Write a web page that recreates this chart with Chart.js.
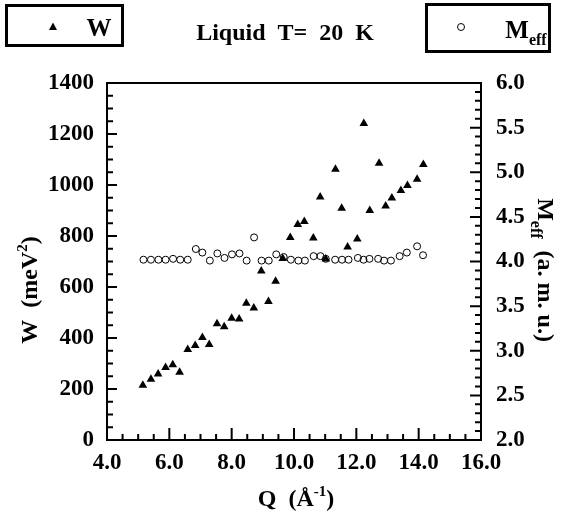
<!DOCTYPE html>
<html>
<head>
<meta charset="utf-8">
<script src="https://cdn.jsdelivr.net/npm/chart.js@4/dist/chart.umd.min.js"></script>
<style>
html,body{margin:0;padding:0;background:#fff;}
#wrap{width:561px;height:514px;position:relative;}
</style>
</head>
<body>
<div id="wrap"><canvas id="c" width="561" height="514"></canvas></div>
<script>
// ---- data ----
const qW = [5.15,5.41,5.64,5.88,6.11,6.33,6.59,6.83,7.06,7.28,7.53,7.76,8.00,8.24,8.47,8.71,8.95,9.18,9.41,9.64,9.88,10.12,10.33,10.62,10.84,11.02,11.33,11.53,11.72,12.03,12.24,12.43,12.73,12.94,13.14,13.43,13.64,13.95,14.15];
const wValues = [215,238,259,284,295,266,355,371,402,375,456,444,477,475,536,518,663,543,623,712,794,845,857,792,953,710,1062,909,757,788,1241,900,1085,918,949,978,998,1023,1080];
const qM = [5.17,5.41,5.65,5.88,6.12,6.35,6.59,6.85,7.06,7.30,7.54,7.77,8.01,8.25,8.48,8.72,8.96,9.19,9.43,9.67,9.90,10.14,10.35,10.63,10.85,11.02,11.32,11.54,11.75,12.05,12.23,12.42,12.70,12.89,13.11,13.39,13.62,13.95,14.14];
const mValues = [4.02,4.02,4.02,4.02,4.03,4.02,4.02,4.14,4.10,4.01,4.09,4.04,4.08,4.09,4.01,4.27,4.01,4.01,4.08,4.05,4.02,4.01,4.01,4.06,4.06,4.03,4.02,4.02,4.02,4.04,4.02,4.03,4.03,4.01,4.01,4.06,4.10,4.17,4.07];
const xTicks = [4,6,8,10,12,14,16];
const wTicks = [0,200,400,600,800,1000,1200,1400];
const mTicks = [2.0,2.5,3.0,3.5,4.0,4.5,5.0,5.5,6.0];
const titleText = "Liquid  T=  20  K";
const seriesNames = ["W", "M"];

const FONT = "'Liberation Serif', 'Times New Roman', serif";

const W_pts = qW.map((q,i)=>({x:q,y:wValues[i]}));
const M_pts = qM.map((q,i)=>({x:q,y:mValues[i]}));

function rich(ctx, parts, cx, cy, rot){
  ctx.save();
  ctx.translate(cx, cy);
  ctx.rotate(rot);
  let total = 0;
  parts.forEach(p=>{ctx.font = "bold "+p.size+"px "+FONT; p.w = ctx.measureText(p.t).width; total += p.w;});
  let x = -total/2;
  ctx.textBaseline = "alphabetic";
  ctx.textAlign = "left";
  ctx.fillStyle = "#000";
  parts.forEach(p=>{ctx.font = "bold "+p.size+"px "+FONT; ctx.fillText(p.t, x, p.dy||0); x += p.w;});
  ctx.restore();
}

const decor = {
  id:'decor',
  afterDatasetsDraw(chart){
    const ctx = chart.ctx;
    const a = chart.chartArea;
    const sx = chart.scales.x, sy = chart.scales.y, sy2 = chart.scales.y2;
    ctx.save();
    ctx.strokeStyle = "#000";
    ctx.lineWidth = 2;
    ctx.strokeRect(a.left, a.top, a.right-a.left, a.bottom-a.top);
    ctx.beginPath();
    for(let i=0;i<=24;i++){
      const v = 4 + i*0.5;
      const px = sx.getPixelForValue(v);
      const len = (i%4===0) ? 12 : 6;
      ctx.moveTo(px, a.bottom); ctx.lineTo(px, a.bottom-len);
    }
    for(let i=0;i<=28;i++){
      const v = i*50;
      const py = sy.getPixelForValue(v);
      const len = (i%4===0) ? 10 : 6;
      ctx.moveTo(a.left, py); ctx.lineTo(a.left+len, py);
    }
    for(let i=0;i<=40;i++){
      const v = 2 + i*0.1;
      const py = sy2.getPixelForValue(v);
      const len = (i%5===0) ? 11 : 6;
      ctx.moveTo(a.right, py); ctx.lineTo(a.right-len, py);
    }
    ctx.stroke();

    // legend boxes
    ctx.lineWidth = 3;
    ctx.strokeRect(6.5, 5.5, 116, 40);
    ctx.strokeRect(426.5, 4.5, 123, 47);
    ctx.fillStyle = "#000";
    ctx.beginPath();
    ctx.moveTo(53, 22.5); ctx.lineTo(57, 30); ctx.lineTo(49, 30); ctx.closePath(); ctx.fill();
    ctx.lineWidth = 1;
    ctx.beginPath(); ctx.arc(461, 27, 3.5, 0, Math.PI*2); ctx.stroke();
    ctx.restore();

    rich(ctx, [{t:seriesNames[0], size:25}], 99, 36, 0);
    rich(ctx, [{t:seriesNames[1], size:25},{t:"eff", size:16, dy:7}], 526, 38, 0);
    rich(ctx, [{t:titleText, size:24}], 285, 40, 0);
    rich(ctx, [{t:"Q  (Å", size:24},{t:"-1", size:15, dy:-10},{t:")", size:24}], 296, 506, 0);
    rich(ctx, [{t:"W  (meV", size:24},{t:"2", size:15, dy:-10},{t:")", size:24}], 37, 290, -Math.PI/2);
    rich(ctx, [{t:"M", size:24},{t:"eff", size:16, dy:7},{t:"  (a. m. u.)", size:24}], 538, 270, Math.PI/2);
  }
};

const tickFont = {family: FONT, size: 23, weight: 'bold'};

new Chart(document.getElementById('c'), {
  type: 'scatter',
  data: {
    datasets: [
      {label: seriesNames[0], data: W_pts, yAxisID: 'y', pointStyle: 'triangle', pointRadius: 5,
       backgroundColor: '#000', borderColor: '#000', borderWidth: 0, order: 0},
      {label: seriesNames[1], data: M_pts, yAxisID: 'y2', pointStyle: 'circle', pointRadius: 3.5,
       backgroundColor: 'rgba(255,255,255,0)', borderColor: '#000', borderWidth: 1, order: 1}
    ]
  },
  options: {
    responsive: false,
    animation: false,
    devicePixelRatio: 1,
    layout: {padding: {top: 83, left: 0, right: 0, bottom: 0}},
    plugins: {legend: {display: false}, tooltip: {enabled: false}, title: {display: false}},
    scales: {
      x: {
        type: 'linear', position: 'bottom', min: 4, max: 16,
        afterBuildTicks: s => { s.ticks = xTicks.map(v=>({value:v})); },
        ticks: {color:'#000', font: tickFont, padding: 9, maxRotation: 0, autoSkip: false,
                callback: v => Number(v).toFixed(1)},
        grid: {display: false, drawTicks: false}, border: {display: false},
        afterFit: s => { s.height = 74; }
      },
      y: {
        type: 'linear', position: 'left', min: 0, max: 1400,
        afterBuildTicks: s => { s.ticks = wTicks.map(v=>({value:v})); },
        ticks: {color:'#000', font: tickFont, padding: 13, autoSkip: false, callback: v => String(v)},
        grid: {display: false, drawTicks: false}, border: {display: false},
        afterFit: s => { s.width = 107; }
      },
      y2: {
        type: 'linear', position: 'right', min: 2, max: 6,
        afterBuildTicks: s => { s.ticks = mTicks.map(v=>({value:v})); },
        ticks: {color:'#000', font: tickFont, padding: 15, autoSkip: false, callback: v => Number(v).toFixed(1)},
        grid: {display: false, drawTicks: false}, border: {display: false},
        afterFit: s => { s.width = 80; }
      }
    }
  },
  plugins: [decor]
});
</script>
</body>
</html>
